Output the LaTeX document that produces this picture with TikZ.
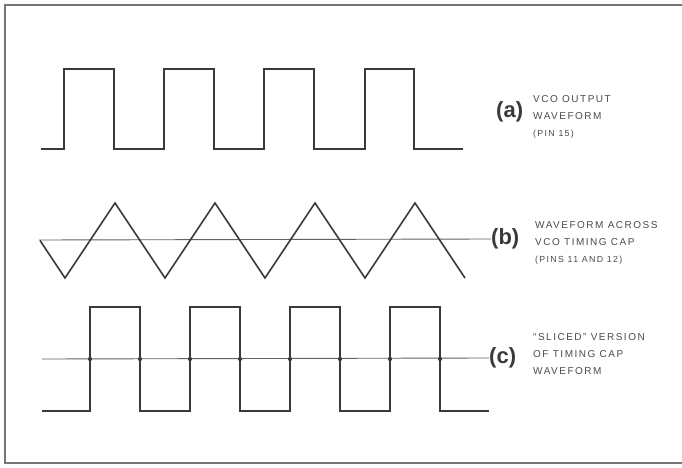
\documentclass[tikz,border=0pt]{standalone}
\usepackage{fontspec}
\setmainfont{Liberation Sans}
\newfontfamily\capfont[LetterSpace=15]{Liberation Sans}
\newfontfamily\tagfont{Liberation Sans}
\definecolor{ink}{HTML}{3A3A3A}
\definecolor{txt}{HTML}{4A4A4A}
\begin{document}
\begin{tikzpicture}[x=1pt,y=-1pt,
  wave/.style={draw=ink, line width=1.6pt, line join=miter},
  mid/.style={draw=ink!80, line width=0.9pt},
  framestyle/.style={draw=ink!70, line width=1.4pt},
  tagtxt/.style={text=ink, font=\tagfont\bfseries\fontsize{22}{22}\selectfont, inner sep=0pt, anchor=west},
  captxt/.style={text=txt, font=\capfont\fontsize{10}{17}\selectfont, align=left, inner sep=0pt, anchor=west},
  dotc/.style={circle, fill=ink, inner sep=0pt, minimum size=4.2pt}]
\useasboundingbox (0,0) rectangle (682,468);
% frame
\draw[framestyle] (682,5) -- (5,5) -- (5,463) -- (682,463);
% (a) square wave
\draw[wave] (41,149) -- (64,149) -- (64,69) -- (114,69) -- (114,149) -- (164,149) -- (164,69) -- (214,69) -- (214,149)
  -- (264,149) -- (264,69) -- (314,69) -- (314,149) -- (365,149) -- (365,69) -- (414,69) -- (414,149) -- (463,149);
\node[tagtxt] (la) at (496,112) {(a)};
\node[captxt] (ta) at (533,117) {VCO OUTPUT\\WAVEFORM\\{\fontsize{8.8}{9}\selectfont (PIN 15)}};
% (b) triangle
\node[tagtxt] (lb) at (491,239) {(b)};
\coordinate (bs) at (39,240);
\draw[mid] (bs) -- (lb.west);
\draw[wave] (40,240.5) -- (65,278) -- (115,203) -- (165,278) -- (215,203) -- (265,278) -- (315,203) -- (365,278) -- (415,203) -- (465,278);
\node[captxt] (tb) at (535,243) {WAVEFORM ACROSS\\VCO TIMING CAP\\{\fontsize{8.8}{9}\selectfont (PINS 11 AND 12)}};
% (c) sliced
\node[tagtxt] (lc) at (489,358) {(c)};
\coordinate (cs) at (42,359);
\draw[mid] (cs) -- (lc.west);
\draw[wave] (42,411) -- (90,411) -- (90,307) -- (140,307) -- (140,411) -- (190,411) -- (190,307) -- (240,307) -- (240,411)
  -- (290,411) -- (290,307) -- (340,307) -- (340,411) -- (390,411) -- (390,307) -- (440,307) -- (440,411) -- (489,411);
\foreach \x/\n in {90/d1,140/d2,190/d3,240/d4,290/d5,340/d6,390/d7,440/d8}
  \node[dotc] (\n) at (\x,359) {};
\node[captxt] (tc) at (533,354) {“SLICED” VERSION\\OF TIMING CAP\\WAVEFORM};
\end{tikzpicture}
\end{document}
